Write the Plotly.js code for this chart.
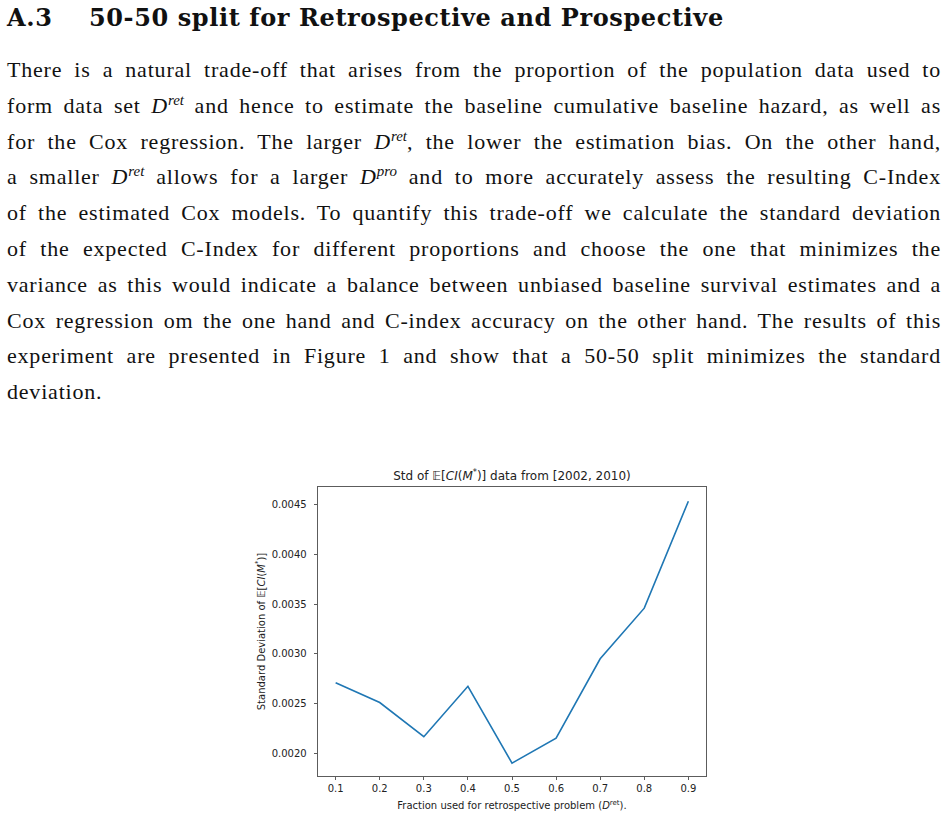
<!DOCTYPE html>
<html>
<head>
<meta charset="utf-8">
<script src="https://cdn.plot.ly/plotly-3.0.1.min.js"></script>
<style>
  html, body { margin: 0; padding: 0; background: #fff; }
  body { width: 948px; height: 819px; position: relative; overflow: hidden; color: #111; }
  #head {
    position: absolute; left: 7px; top: 5px; width: 935px;
    font: bold 24px/25px "DejaVu Serif", serif; letter-spacing: 0.6px; white-space: nowrap;
  }
  #head .num { display: inline-block; width: 82px; }
  #para {
    position: absolute; left: 7px; top: 52px; width: 934px;
    font: 22px/35.8px "Liberation Serif", serif; letter-spacing: 0.8px;
  }
  #para .ln { text-align: justify; text-align-last: justify; white-space: nowrap; }
  #para .ln.last { text-align-last: left; }
  #para sup { font-size: 0.68em; line-height: 0; vertical-align: 0.55em; letter-spacing: 0; }
  #chart { position: absolute; left: 240px; top: 440px; width: 480px; height: 379px; }
</style>
</head>
<body>
<div id="head"><span class="num">A.3</span>50-50 split for Retrospective and Prospective</div>
<div id="para">
  <div class="ln">There is a natural trade-off that arises from the proportion of the population data used to</div>
  <div class="ln">form data set <i>D</i><sup><i>ret</i></sup> and hence to estimate the baseline cumulative baseline hazard, as well as</div>
  <div class="ln">for the Cox regression. The larger <i>D</i><sup><i>ret</i></sup>, the lower the estimation bias. On the other hand,</div>
  <div class="ln">a smaller <i>D</i><sup><i>ret</i></sup> allows for a larger <i>D</i><sup><i>pro</i></sup> and to more accurately assess the resulting C-Index</div>
  <div class="ln">of the estimated Cox models. To quantify this trade-off we calculate the standard deviation</div>
  <div class="ln">of the expected C-Index for different proportions and choose the one that minimizes the</div>
  <div class="ln">variance as this would indicate a balance between unbiased baseline survival estimates and a</div>
  <div class="ln">Cox regression om the one hand and C-index accuracy on the other hand. The results of this</div>
  <div class="ln">experiment are presented in Figure 1 and show that a 50-50 split minimizes the standard</div>
  <div class="ln last">deviation.</div>
</div>
<div id="chart"></div>
<script>
// fraction of data used for the retrospective set
const fractions = [0.1, 0.2, 0.3, 0.4, 0.5, 0.6, 0.7, 0.8, 0.9];
// std of expected C-index
const stdValues = [0.00271, 0.00251, 0.002166, 0.002673, 0.0019, 0.00215, 0.00295, 0.00346, 0.004537];

const axisFont = { family: 'DejaVu Sans, sans-serif', size: 10, color: '#222' };

Plotly.newPlot('chart', [
  {
    x: fractions,
    y: stdValues,
    type: 'scatter',
    mode: 'lines',
    line: { color: '#1f77b4', width: 1.6 },
    hoverinfo: 'skip'
  }
], {
  width: 480,
  height: 379,
  margin: { l: 78, r: 14, t: 47, b: 43 },
  paper_bgcolor: 'rgba(0,0,0,0)',
  plot_bgcolor: '#fff',
  showlegend: false,
  title: {
    text: 'Std of 𝔼[<i>CI</i>(<i>M</i><sup>*</sup>)] data from [2002, 2010)',
    font: { family: 'DejaVu Sans, sans-serif', size: 12, color: '#222' },
    x: 0.5, xref: 'paper', xanchor: 'center',
    y: 1 - 36 / 379, yref: 'container', yanchor: 'middle'
  },
  xaxis: {
    range: [0.06, 0.94],
    tickvals: fractions,
    ticktext: fractions.map(v => v.toFixed(1)),
    ticks: 'outside', ticklen: 3.5, tickwidth: 0.8, tickcolor: '#333',
    ticklabelstandoff: 0,
    showline: true, mirror: true, linecolor: '#333', linewidth: 0.8,
    showgrid: false, zeroline: false,
    tickfont: axisFont,
    title: {
      text: 'Fraction used for retrospective problem (<i>D</i><sup>ret</sup>).',
      font: axisFont,
      standoff: 8
    }
  },
  yaxis: {
    range: [0.00177, 0.00468],
    tick0: 0.002, dtick: 0.0005, tickformat: '.4f',
    ticks: 'outside', ticklen: 3.5, tickwidth: 0.8, tickcolor: '#333',
    ticklabelstandoff: 5,
    showline: true, mirror: true, linecolor: '#333', linewidth: 0.8,
    showgrid: false, zeroline: false,
    tickfont: axisFont,
    title: {
      text: 'Standard Deviation of 𝔼[<i>CI</i>(<i>M</i><sup>*</sup>)]',
      font: axisFont,
      standoff: 4
    }
  }
}, { staticPlot: true });
</script>
</body>
</html>
